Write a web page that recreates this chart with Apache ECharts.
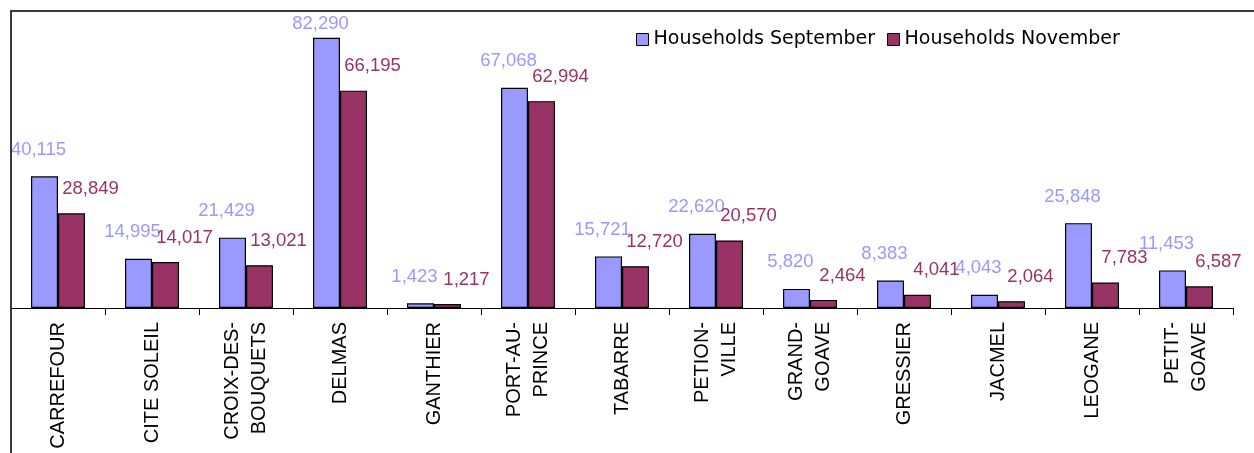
<!DOCTYPE html>
<html>
<head>
<meta charset="utf-8">
<script src="https://cdn.jsdelivr.net/npm/echarts@6/dist/echarts.min.js"></script>
<style>
html,body{margin:0;padding:0;background:#fff;}
#chart{width:1254px;height:453px;}
</style>
</head>
<body>
<div id="chart"></div>
<script>
const categories = ['CARREFOUR', 'CITE SOLEIL', 'CROIX-DES-\nBOUQUETS', 'DELMAS', 'GANTHIER', 'PORT-AU-\nPRINCE', 'TABARRE', 'PETION-\nVILLE', 'GRAND-\nGOAVE', 'GRESSIER', 'JACMEL', 'LEOGANE', 'PETIT-\nGOAVE'];
const householdsSeptember = [40115, 14995, 21429, 82290, 1423, 67068, 15721, 22620, 5820, 8383, 4043, 25848, 11453];
const householdsNovember = [28849, 14017, 13021, 66195, 1217, 62994, 12720, 20570, 2464, 4041, 2064, 7783, 6587];
const seriesNames = ['Households September', 'Households November'];

function fmt(v) { return String(v).replace(/\B(?=(\d{3})+(?!\d))/g, ','); }
// shift value labels, but keep them inside the plot frame
function shiftLabel(dx, dy) {
  const minTop = 14;
  return function (p) {
    let d = dy;
    if (p.labelRect.y + d < minTop) d = minTop - p.labelRect.y;
    return {dx: dx, dy: d};
  };
}

const chart = echarts.init(document.getElementById('chart'), null, {renderer: 'canvas'});
chart.setOption({
  animation: false,
  backgroundColor: '#ffffff',
  textStyle: {fontFamily: 'Liberation Sans, Arial, sans-serif'},
  grid: {left: 11, right: 21, top: 12.5, bottom: 145, containLabel: false},
  legend: {
    left: 631, top: 25,
    itemWidth: 12, itemHeight: 12, itemGap: 12,
    icon: 'rect',
    itemStyle: {borderColor: '#000', borderWidth: 1},
    textStyle: {fontFamily: 'DejaVu Sans', fontSize: 19, color: '#000'},
    data: seriesNames
  },
  xAxis: {
    type: 'category',
    data: categories,
    axisLine: {lineStyle: {color: '#000', width: 1.2}},
    axisTick: {show: true, length: 7, lineStyle: {color: '#000'}},
    axisLabel: {rotate: 90, margin: 14, fontSize: 20, lineHeight: 27, color: '#000', fontFamily: 'Liberation Sans', interval: 0}
  },
  yAxis: {
    type: 'value', min: 0, max: 90000,
    show: false,
    splitLine: {show: false}
  },
  series: [
    {
      name: seriesNames[0], type: 'bar', data: householdsSeptember,
      barWidth: 27, barGap: '0%',
      itemStyle: {color: '#9999FF', borderColor: '#000', borderWidth: 1.2},
      label: {show: true, position: 'top', distance: 5, color: '#9999FF', fontSize: 18.5, fontFamily: 'Liberation Sans', formatter: p => fmt(p.value)},
      labelLayout: shiftLabel(-6, -12)
    },
    {
      name: seriesNames[1], type: 'bar', data: householdsNovember,
      barWidth: 27, barGap: '0%',
      itemStyle: {color: '#993366', borderColor: '#000', borderWidth: 1.2},
      label: {show: true, position: 'top', distance: 5, color: '#993366', fontSize: 18.5, fontFamily: 'Liberation Sans', formatter: p => fmt(p.value)},
      labelLayout: shiftLabel(19, -10)
    }
  ],
  graphic: [
    {type: 'line', shape: {x1: 11, y1: 11, x2: 1254, y2: 11}, style: {stroke: '#3a3a3a', lineWidth: 2}, z: 100},
    {type: 'line', shape: {x1: 11, y1: 10, x2: 11, y2: 453}, style: {stroke: '#3a3a3a', lineWidth: 2}, z: 100}
  ]
});
</script>
</body>
</html>
